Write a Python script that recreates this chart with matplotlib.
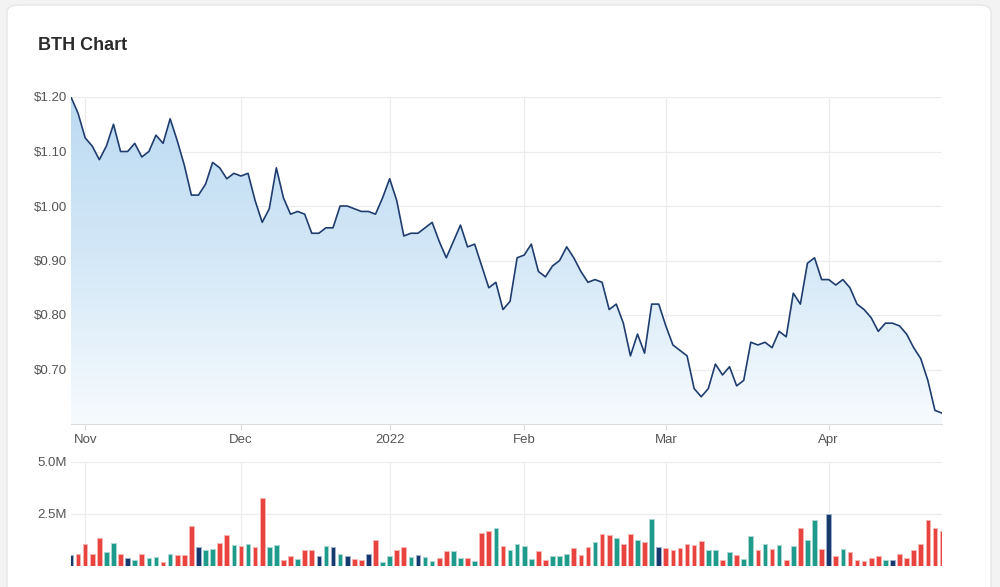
import numpy as np
import pandas as pd
import matplotlib
matplotlib.use("Agg")
import matplotlib.pyplot as plt
from matplotlib.patches import FancyBboxPatch
from matplotlib.colors import LinearSegmentedColormap

# ---------------- data ----------------
start_date = "2021-10-28"
end_date = "2022-04-28"
asx_holidays = ["2021-12-27", "2021-12-28", "2022-01-03", "2022-01-26",
                "2022-04-15", "2022-04-18", "2022-04-25"]

close_prices = [
    1.200, 1.170, 1.125, 1.110, 1.085, 1.110, 1.150, 1.100, 1.100, 1.115,
    1.090, 1.100, 1.130, 1.115, 1.160, 1.120, 1.075, 1.020, 1.020, 1.040,
    1.080, 1.070, 1.050, 1.060, 1.055, 1.060, 1.010, 0.970, 0.995, 1.070,
    1.015, 0.985, 0.990, 0.985, 0.950, 0.950, 0.960, 0.960, 1.000, 1.000,
    0.995, 0.990, 0.990, 0.985, 1.015, 1.050, 1.010, 0.945, 0.950, 0.950,
    0.960, 0.970, 0.935, 0.905, 0.935, 0.965, 0.925, 0.930, 0.890, 0.850,
    0.860, 0.810, 0.825, 0.905, 0.910, 0.930, 0.880, 0.870, 0.890, 0.900,
    0.925, 0.905, 0.880, 0.860, 0.865, 0.860, 0.810, 0.820, 0.785, 0.725,
    0.765, 0.730, 0.820, 0.820, 0.780, 0.745, 0.735, 0.725, 0.665, 0.650,
    0.665, 0.710, 0.690, 0.705, 0.670, 0.680, 0.750, 0.745, 0.750, 0.740,
    0.770, 0.760, 0.840, 0.820, 0.895, 0.905, 0.865, 0.865, 0.855, 0.865,
    0.850, 0.820, 0.810, 0.795, 0.770, 0.785, 0.785, 0.780, 0.765, 0.740,
    0.720, 0.680, 0.625, 0.620,
]

volumes_m = [
    0.52, 0.60, 1.05, 0.60, 1.35, 0.66, 1.10, 0.60, 0.40, 0.31,
    0.60, 0.40, 0.45, 0.21, 0.60, 0.55, 0.55, 1.90, 0.92, 0.76,
    0.81, 1.11, 1.47, 1.00, 0.95, 1.05, 0.90, 3.26, 0.90, 1.00,
    0.31, 0.50, 0.35, 0.77, 0.77, 0.50, 0.95, 0.90, 0.60, 0.50,
    0.35, 0.31, 0.60, 1.27, 0.21, 0.50, 0.77, 0.90, 0.45, 0.55,
    0.45, 0.26, 0.40, 0.71, 0.71, 0.40, 0.40, 0.26, 1.61, 1.66,
    1.81, 0.95, 0.76, 1.05, 0.95, 0.35, 0.71, 0.31, 0.50, 0.50,
    0.60, 0.85, 0.55, 0.90, 1.16, 1.56, 1.47, 1.35, 1.05, 1.56,
    1.26, 1.16, 2.26, 0.90, 0.85, 0.76, 0.85, 1.05, 1.00, 1.21,
    0.76, 0.76, 0.31, 0.65, 0.55, 0.35, 1.45, 0.76, 1.05, 0.81,
    1.00, 0.31, 0.95, 1.85, 1.26, 2.21, 0.81, 2.50, 0.50, 0.81,
    0.65, 0.31, 0.26, 0.40, 0.50, 0.31, 0.31, 0.60, 0.40, 0.76,
    1.05, 2.21, 1.85, 1.66,
]

month_labels = ["Nov", "Dec", "2022", "Feb", "Mar", "Apr"]
price_ticks = [0.70, 0.80, 0.90, 1.00, 1.10, 1.20]
volume_ticks_m = [2.5, 5.0]
title_text = "BTH Chart"

# ---------------- derived ----------------
dates = pd.bdate_range(start_date, end_date)
dates = dates[~dates.isin(pd.to_datetime(asx_holidays))]
n = len(close_prices)
assert len(dates) == n and len(volumes_m) == n
x = np.arange(n)
month_key = dates.year * 12 + dates.month
month_idx = [i for i in range(1, n) if month_key[i] != month_key[i - 1]]

UP, DOWN, FLAT = "#1e9b8a", "#e8433f", "#173a6e"
UP_E, DOWN_E, FLAT_E = "#a8d8d1", "#f6b4b2", "#9fb0cc"
bar_colors, edge_colors = [], []
for i in range(n):
    if i == 0 or close_prices[i] == close_prices[i - 1]:
        bar_colors.append(FLAT); edge_colors.append(FLAT_E)
    elif close_prices[i] > close_prices[i - 1]:
        bar_colors.append(UP); edge_colors.append(UP_E)
    else:
        bar_colors.append(DOWN); edge_colors.append(DOWN_E)

# ---------------- figure ----------------
W, H = 1000, 587
fig = plt.figure(figsize=(W / 100, H / 100), dpi=100)
fig.patch.set_facecolor("#f3f3f3")
card = FancyBboxPatch((7 / W, -0.2), 984 / W, 1.2 - 5 / H,
                      boxstyle="round,pad=0,rounding_size=0.012",
                      transform=fig.transFigure, facecolor="white",
                      edgecolor="#e6e6e6", linewidth=1.0, zorder=-10)
fig.patches.append(card)

fig.text(38 / W, 1 - 46 / H, title_text, fontsize=13, fontweight="bold",
         color="#2b2b2b", va="center", ha="left", family="Liberation Sans")

label_font = dict(family="Liberation Sans", size=9.5, color="#555555")
grid_c = "#ececec"

left, right = 71 / W, 942 / W
ax = fig.add_axes([left, 1 - 424 / H, right - left, (424 - 97) / H])
ax.set_zorder(2)
ax.set_xlim(0, n - 1)
ax.set_ylim(0.60, 1.20)
ax.set_facecolor("none")

# gradient fill under line
poly = ax.fill_between(x, close_prices, 0.60, facecolor="none", edgecolor="none")
cmap = LinearSegmentedColormap.from_list("g", ["#f7fbfe", "#d4e8f7", "#bcdaf2"])
grad = np.linspace(0, 1, 256).reshape(-1, 1)
im = ax.imshow(grad, cmap=cmap, aspect="auto", origin="lower",
               extent=[0, n - 1, 0.60, 1.20], zorder=1)
path = poly.get_paths()[0]
im.set_clip_path(path, transform=ax.transData)
ax.plot(x, close_prices, color="#1f3d6e", linewidth=1.2, zorder=3,
        solid_joinstyle="round")

ax.set_yticks(price_ticks)
ax.set_yticklabels([f"${v:.2f}" for v in price_ticks], **label_font)
ax.set_xticks(month_idx)
ax.set_xticklabels(month_labels, **label_font)
ax.grid(True, color=grid_c, linewidth=0.9, zorder=0)
ax.set_axisbelow(True)
for s in ["top", "right", "left"]:
    ax.spines[s].set_visible(False)
ax.spines["bottom"].set_color("#dcdcdc")
ax.tick_params(axis="y", length=0, pad=3)
ax.tick_params(axis="x", length=4, color="#dcdcdc", pad=3)

# volume panel
axv = fig.add_axes([left, 1 - 566 / H, right - left, (566 - 462) / H])
axv.set_zorder(2)
axv.set_facecolor("none")
axv.set_xlim(0, n - 1)
axv.set_ylim(0, 5.0)
axv.bar(x, volumes_m, width=0.66, color=bar_colors, edgecolor=edge_colors,
        linewidth=0.7, zorder=3)
axv.set_yticks(volume_ticks_m)
axv.set_yticklabels([f"{v:.1f}M" for v in volume_ticks_m], **label_font)
axv.set_xticks(month_idx)
axv.set_xticklabels([])
axv.grid(True, color=grid_c, linewidth=0.9, zorder=0)
axv.set_axisbelow(True)
for s in axv.spines.values():
    s.set_visible(False)
axv.tick_params(length=0, pad=3)

fig.savefig("out.png", dpi=100)
